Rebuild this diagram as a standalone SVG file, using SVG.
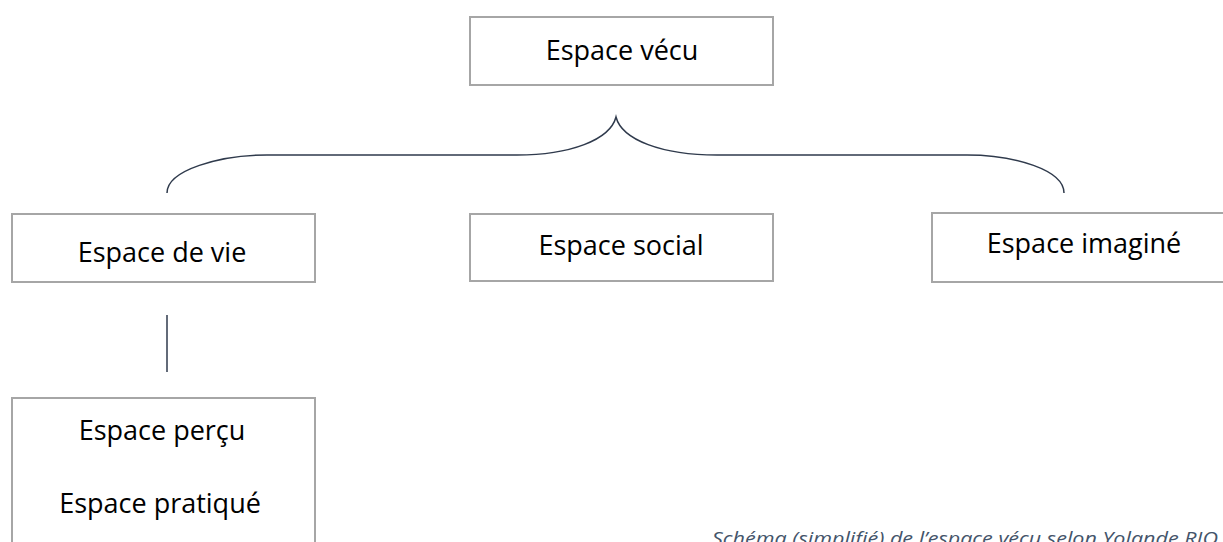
<svg xmlns="http://www.w3.org/2000/svg" width="1223" height="542" viewBox="0 0 1223 542">
<style>
.box{fill:#ffffff;stroke:#a6a6a6;stroke-width:2}
.lbl{font-family:"Open Sans","Noto Sans",sans-serif;font-size:27px;fill:#000000;text-anchor:middle}
.conn{fill:none;stroke:#2f3a4c;stroke-width:1.5}
.cap{font-family:"Open Sans","Noto Sans",sans-serif;font-size:19px;font-style:italic;fill:#44546a}
</style>
<rect width="1223" height="542" fill="#ffffff"/>
<g id="connectors">
<path class="conn" d="M167,193 C167,170 220,155 267,155 L517,155 C570,155 610,140 616,117 C622,140 662,155 717,155 L967,155 C1015,155 1064,170 1064,193"/>
<line class="conn" x1="167" y1="315" x2="167" y2="372"/>
</g>
<g id="espace-vecu">
<rect class="box" x="470" y="17" width="303" height="68"/>
<text class="lbl" x="622" y="60">Espace vécu</text>
</g>
<g id="espace-de-vie">
<rect class="box" x="12" y="214" width="303" height="68"/>
<text class="lbl" x="162" y="262">Espace de vie</text>
</g>
<g id="espace-social">
<rect class="box" x="470" y="214" width="303" height="67"/>
<text class="lbl" x="621" y="255">Espace social</text>
</g>
<g id="espace-imagine">
<rect class="box" x="932" y="213" width="303" height="69"/>
<text class="lbl" x="1084" y="253">Espace imaginé</text>
</g>
<g id="espace-percu">
<rect class="box" x="12" y="398" width="303" height="160"/>
<text class="lbl" x="162" y="440">Espace perçu</text>
<text class="lbl" x="160" y="513">Espace pratiqué</text>
</g>
<g id="caption">
<text class="cap" x="712" y="545" textLength="506" lengthAdjust="spacingAndGlyphs">Schéma (simplifié) de l’espace vécu selon Yolande RIO</text>
</g>
</svg>
